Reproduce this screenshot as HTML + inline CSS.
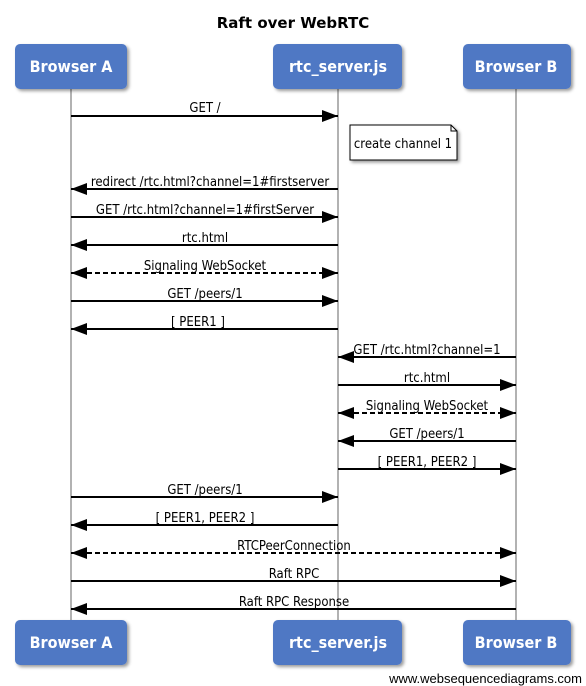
<!DOCTYPE html>
<html><head><style>body{margin:0;background:#fff}svg{display:block}</style></head><body>
<svg width="586" height="686" xmlns="http://www.w3.org/2000/svg" font-family="'DejaVu Sans Condensed','Liberation Sans Narrow','Liberation Sans',sans-serif">
<defs>
<filter id="sh" x="-10%" y="-10%" width="130%" height="140%"><feDropShadow dx="2" dy="2" stdDeviation="1.5" flood-color="#000" flood-opacity="0.4"/></filter>
<marker id="ah" markerWidth="16" markerHeight="12" refX="16" refY="6" orient="auto" markerUnits="userSpaceOnUse"><path d="M0,0 L16,6 L0,12 z" fill="#000"/></marker>
<marker id="as" markerWidth="16" markerHeight="12" refX="0" refY="6" orient="auto" markerUnits="userSpaceOnUse"><path d="M16,0 L0,6 L16,12 z" fill="#000"/></marker>
</defs>
<text x="293" y="28" text-anchor="middle" font-size="15" font-weight="bold" font-family="'DejaVu Sans','Liberation Sans',sans-serif">Raft over WebRTC</text>
<g stroke="#999" stroke-width="1.5">
<line x1="71" y1="88" x2="71" y2="620"/><line x1="338" y1="88" x2="338" y2="620"/><line x1="516" y1="88" x2="516" y2="620"/>
</g>
<g fill="#4f78c4" filter="url(#sh)">
<rect x="15" y="44" width="112" height="45" rx="5"/><rect x="273" y="44" width="129" height="45" rx="5"/><rect x="463" y="44" width="108" height="45" rx="5"/>
<rect x="15" y="620" width="112" height="45" rx="5"/><rect x="273" y="620" width="129" height="45" rx="5"/><rect x="463" y="620" width="108" height="45" rx="5"/>
</g>
<g fill="#fff" font-size="16" font-weight="bold" text-anchor="middle">
<text x="71" y="72">Browser A</text><text x="338" y="72">rtc_server.js</text><text x="516" y="72">Browser B</text>
<text x="71" y="648">Browser A</text><text x="338" y="648">rtc_server.js</text><text x="516" y="648">Browser B</text>
</g>
<path d="M350,125 H451 L457,131 V160 H350 Z" fill="#fff" stroke="#000" filter="url(#sh)"/>
<path d="M451,125 V131 H457" fill="none" stroke="#000"/>
<text x="403" y="148" text-anchor="middle" font-size="13">create channel 1</text>
<g stroke="#000" stroke-width="2" fill="none">
<line x1="71" y1="116" x2="338" y2="116" marker-end="url(#ah)"/>
<line x1="338" y1="189" x2="71" y2="189" marker-end="url(#ah)"/>
<line x1="71" y1="217" x2="338" y2="217" marker-end="url(#ah)"/>
<line x1="338" y1="245" x2="71" y2="245" marker-end="url(#ah)"/>
<line x1="71" y1="273" x2="338" y2="273" marker-end="url(#ah)" marker-start="url(#as)" stroke-dasharray="5,3"/>
<line x1="71" y1="301" x2="338" y2="301" marker-end="url(#ah)"/>
<line x1="338" y1="329" x2="71" y2="329" marker-end="url(#ah)"/>
<line x1="516" y1="357" x2="338" y2="357" marker-end="url(#ah)"/>
<line x1="338" y1="385" x2="516" y2="385" marker-end="url(#ah)"/>
<line x1="338" y1="413" x2="516" y2="413" marker-end="url(#ah)" marker-start="url(#as)" stroke-dasharray="5,3"/>
<line x1="516" y1="441" x2="338" y2="441" marker-end="url(#ah)"/>
<line x1="338" y1="469" x2="516" y2="469" marker-end="url(#ah)"/>
<line x1="71" y1="497" x2="338" y2="497" marker-end="url(#ah)"/>
<line x1="338" y1="525" x2="71" y2="525" marker-end="url(#ah)"/>
<line x1="71" y1="553" x2="516" y2="553" marker-end="url(#ah)" marker-start="url(#as)" stroke-dasharray="5,3"/>
<line x1="71" y1="581" x2="516" y2="581" marker-end="url(#ah)"/>
<line x1="516" y1="609" x2="71" y2="609" marker-end="url(#ah)"/>
</g>
<g font-size="13" text-anchor="middle">
<text x="205" y="112">GET /</text>
<text x="210" y="186">redirect /rtc.html?channel=1#firstserver</text>
<text x="205" y="214">GET /rtc.html?channel=1#firstServer</text>
<text x="205" y="242">rtc.html</text>
<text x="205" y="270">Signaling WebSocket</text>
<text x="205" y="298">GET /peers/1</text>
<text x="198" y="326">[ PEER1 ]</text>
<text x="427" y="354">GET /rtc.html?channel=1</text>
<text x="427" y="382">rtc.html</text>
<text x="427" y="410">Signaling WebSocket</text>
<text x="427" y="438">GET /peers/1</text>
<text x="427" y="466">[ PEER1, PEER2 ]</text>
<text x="205" y="494">GET /peers/1</text>
<text x="205" y="522">[ PEER1, PEER2 ]</text>
<text x="294" y="550">RTCPeerConnection</text>
<text x="294" y="578">Raft RPC</text>
<text x="294" y="606">Raft RPC Response</text>
</g>
<text x="582" y="683" text-anchor="end" font-size="13" font-family="'Liberation Sans',sans-serif">www.websequencediagrams.com</text>
</svg>
</body></html>
